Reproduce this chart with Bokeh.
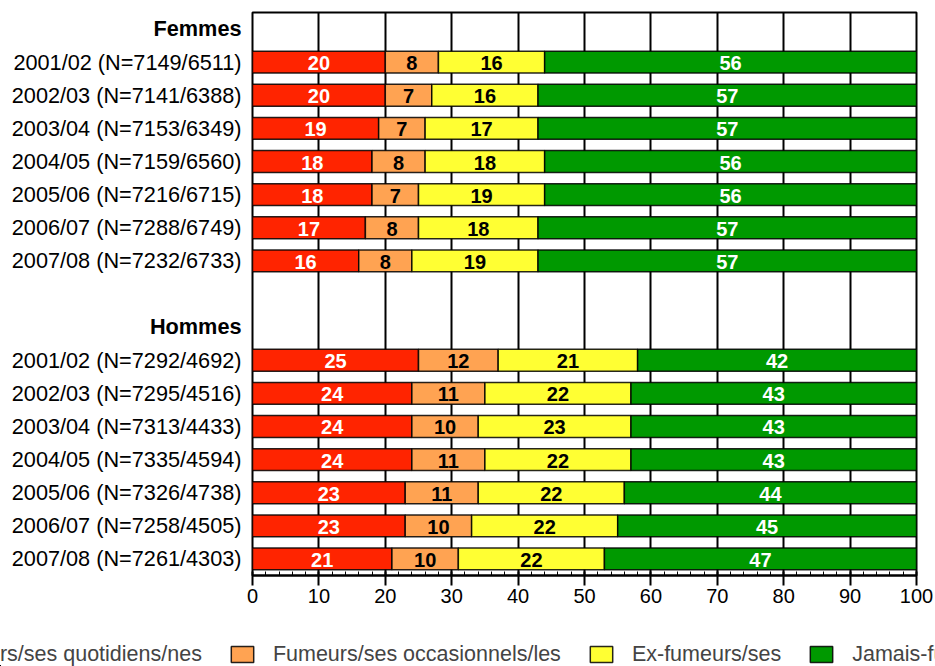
from bokeh.plotting import figure
from bokeh.layouts import column, row
from bokeh.models import (ColumnDataSource, Range1d, FixedTicker, Legend, LegendItem)
from bokeh.core.properties import value
from bokeh.embed import file_html
from bokeh.resources import INLINE

# ---------------- data ----------------
groups = ["Femmes", "Hommes"]
years = ["2001/02", "2002/03", "2003/04", "2004/05", "2005/06", "2006/07", "2007/08"]
n_femmes = ["7149/6511", "7141/6388", "7153/6349", "7159/6560", "7216/6715", "7288/6749", "7232/6733"]
n_hommes = ["7292/4692", "7295/4516", "7313/4433", "7335/4594", "7326/4738", "7258/4505", "7261/4303"]

categories = ["Fumeurs/ses quotidiens/nes", "Fumeurs/ses occasionnels/les",
              "Ex-fumeurs/ses", "Jamais-fumeurs/ses"]

femmes_quotidiens = [20, 20, 19, 18, 18, 17, 16]
femmes_occasionnels = [8, 7, 7, 8, 7, 8, 8]
femmes_ex = [16, 16, 17, 18, 19, 18, 19]
femmes_jamais = [56, 57, 57, 56, 56, 57, 57]

hommes_quotidiens = [25, 24, 24, 24, 23, 23, 21]
hommes_occasionnels = [12, 11, 10, 11, 11, 10, 10]
hommes_ex = [21, 22, 23, 22, 22, 22, 22]
hommes_jamais = [42, 43, 43, 43, 44, 45, 47]

x_ticks = [0, 10, 20, 30, 40, 50, 60, 70, 80, 90, 100]
x_minor_ticks = list(range(0, 101, 2))

colors = ["#FF2400", "#FFA352", "#FFFF33", "#009900"]
text_colors = ["white", "black", "black", "white"]
FONT = "Liberation Sans"

# ---------------- rows ----------------
series_by_group = {
    "Femmes": [femmes_quotidiens, femmes_occasionnels, femmes_ex, femmes_jamais],
    "Hommes": [hommes_quotidiens, hommes_occasionnels, hommes_ex, hommes_jamais],
}
ns_by_group = {"Femmes": n_femmes, "Hommes": n_hommes}

row_y, row_labels = [], []
header_y, header_labels = [], []
series_vals = [[] for _ in categories]
pos = 0
for gi, g in enumerate(groups):
    if gi > 0:
        pos += 1  # blank row between the groups
    header_y.append(pos)
    header_labels.append(g)
    pos += 1
    for i, (yr, n) in enumerate(zip(years, ns_by_group[g])):
        row_y.append(pos)
        row_labels.append(f"{yr} (N={n})")
        for k in range(len(categories)):
            series_vals[k].append(series_by_group[g][k][i])
        pos += 1
n_rows = pos

y_range = Range1d(n_rows - 0.5, -0.5)
TOP, BOTTOM = 12, 40
LABEL_W = 244
TOTAL_W, TOTAL_H = 935, 666
MAIN_H = 615

# ---------------- row labels (left) ----------------
pl = figure(width=LABEL_W, height=MAIN_H, output_backend="svg", toolbar_location=None,
            x_range=Range1d(0, 1), y_range=y_range,
            x_axis_location=None, y_axis_location=None,
            min_border_left=0, min_border_right=0, min_border_top=TOP,
            min_border_bottom=BOTTOM)
pl.outline_line_color = None
pl.grid.visible = False
pl.background_fill_color = "white"
pl.border_fill_color = "white"
pl.text(x=[1] * len(row_y), y=row_y, text=row_labels, x_offset=-3,
        text_font=value(FONT), text_font_size="21.7px", text_align="right",
        text_baseline="middle", text_color="black")
pl.text(x=[1] * len(header_y), y=header_y, text=header_labels, x_offset=-3, y_offset=-1,
        text_font=value(FONT), text_font_size="21.7px", text_font_style="bold",
        text_align="right", text_baseline="middle", text_color="black")

# ---------------- main bars ----------------
p = figure(width=TOTAL_W - LABEL_W, height=MAIN_H, output_backend="svg",
           toolbar_location=None, x_range=Range1d(0, 100), y_range=y_range,
           y_axis_location=None,
           min_border_left=8, min_border_right=19, min_border_top=TOP,
           min_border_bottom=BOTTOM)
p.background_fill_color = "white"
p.border_fill_color = "white"
p.outline_line_color = "black"
p.outline_line_width = 2

p.ygrid.grid_line_color = None
p.xgrid.ticker = FixedTicker(ticks=x_ticks)
p.xgrid.grid_line_color = "black"
p.xgrid.grid_line_width = 2

p.xaxis.ticker = FixedTicker(ticks=x_ticks, minor_ticks=x_minor_ticks)
p.xaxis.axis_line_color = "black"
p.xaxis.axis_line_width = 2
p.xaxis.major_tick_line_color = "black"
p.xaxis.major_tick_line_width = 2
p.xaxis.major_tick_out = 10
p.xaxis.major_tick_in = 4
p.xaxis.minor_tick_line_color = "black"
p.xaxis.minor_tick_out = 0
p.xaxis.minor_tick_in = 4
p.xaxis.major_label_text_font = FONT
p.xaxis.major_label_text_font_size = "20px"
p.xaxis.major_label_text_color = "black"
p.xaxis.major_label_standoff = 3

sources = []
left = [0] * len(row_y)
for k, cat in enumerate(categories):
    vals = series_vals[k]
    right = [l + v for l, v in zip(left, vals)]
    mid = [(l + r) / 2 for l, r in zip(left, right)]
    src = ColumnDataSource(dict(y=row_y, left=left, right=right, mid=mid,
                                lab=[str(v) for v in vals]))
    sources.append(src)
    p.hbar(y="y", left="left", right="right", height=0.66, source=src,
           fill_color=colors[k], line_color="black", line_width=1.5, line_alpha=0.85)
    p.text(x="mid", y="y", text="lab", source=src, text_font=value(FONT),
           text_font_style="bold", text_font_size="20px", text_align="center",
           text_baseline="middle", text_color=text_colors[k], y_offset=1)
    left = right

# ---------------- legend strip (bottom) ----------------
# ranges chosen so that the series bars themselves stay out of view: only the legend shows
pg = figure(width=TOTAL_W, height=TOTAL_H - MAIN_H, output_backend="svg",
            toolbar_location=None, x_range=Range1d(1000, 1001), y_range=Range1d(1000, 1001),
            x_axis_location=None, y_axis_location=None,
            min_border_left=0, min_border_right=0, min_border_top=0, min_border_bottom=0)
pg.outline_line_color = None
pg.grid.visible = False
pg.background_fill_color = "white"
pg.border_fill_color = "white"
items = []
for k, cat in enumerate(categories):
    r = pg.hbar(y="y", left="left", right="right", height=0.66, source=sources[k],
                fill_color=colors[k], line_color="black", line_width=1.5, line_alpha=0.85)
    items.append(LegendItem(label=cat, renderers=[r]))
lg = Legend(items=items, location=(-112, -1), orientation="horizontal",
            glyph_width=28, glyph_height=20, label_standoff=17, spacing=26,
            label_text_font=FONT, label_text_font_size="21.5px", label_height=26,
            padding=0, margin=0, border_line_color=None, background_fill_alpha=0)
pg.add_layout(lg, "center")

layout = column(row(pl, p), pg)
open("out.html", "w").write(file_html(layout, INLINE))
